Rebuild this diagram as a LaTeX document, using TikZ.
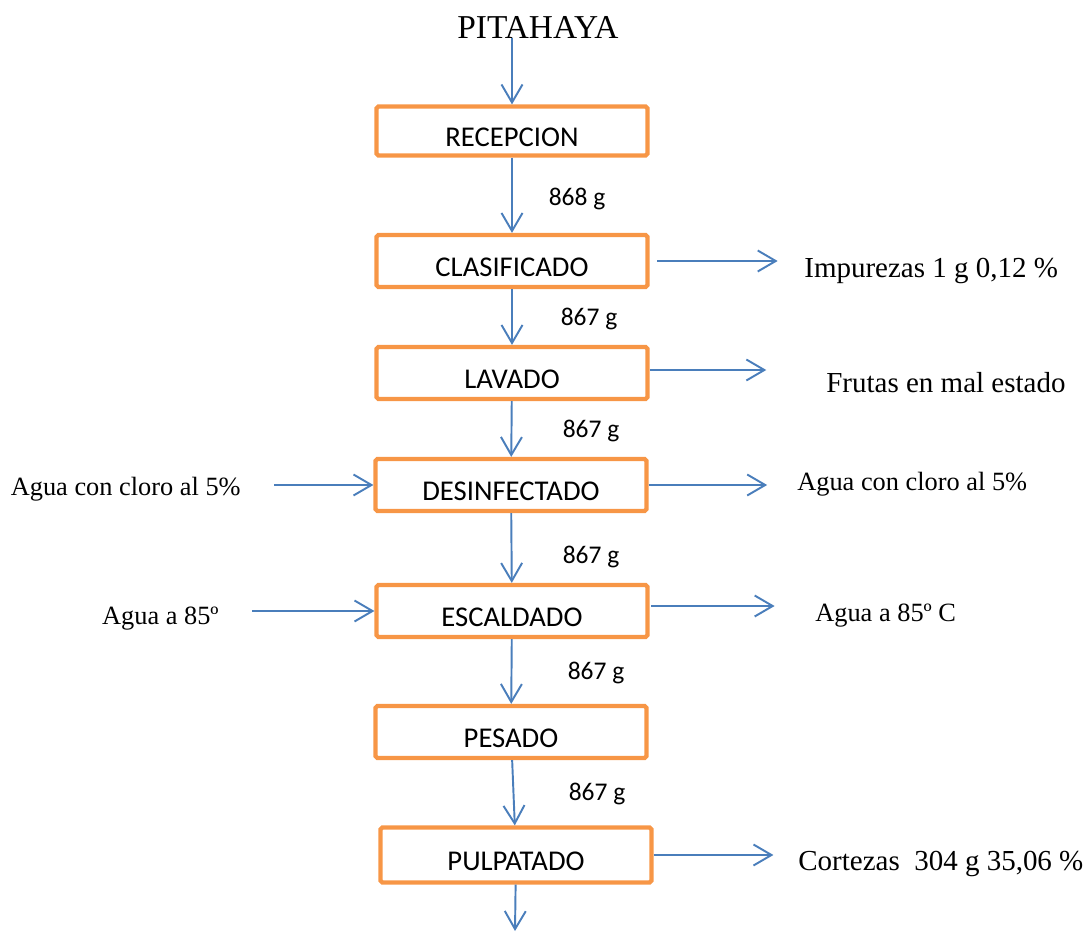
\documentclass[tikz,border=0pt]{standalone}
\usepackage{fontspec}
\setmainfont{Liberation Serif}
\newfontfamily\carlito{Carlito}
\usetikzlibrary{arrows.meta}

\definecolor{naranja}{RGB}{247,150,70}
\definecolor{azul}{RGB}{74,126,187}

\tikzset{
  etapa/.style={draw=naranja, line width=2.4pt, rounded corners=1pt,
    minimum width=5.42cm, minimum height=1.04cm,
    text height=17.3pt, text depth=0pt,
    font=\carlito\fontsize{16.3}{19}\selectfont},
  peso/.style={font=\carlito\fontsize{14.5}{17}\selectfont},
  texto/.style={font=\fontsize{16.5}{20}\selectfont, inner sep=0pt},
  agua/.style={texto, font=\fontsize{15}{18}\selectfont},
  flujo/.style={->, draw=azul, line width=1.1pt},
}

\begin{document}
\begin{tikzpicture}[x=0.02cm, y=-0.02cm, >={Straight Barb[length=0.36cm,width=0.42cm]}]
        \useasboundingbox (0,0) rectangle (1088,932);

        \node (pit) [inner sep=0pt, font=\fontsize{19}{22}\selectfont] at (538,27) {PITAHAYA};

        % etapas del proceso
        \node (rec) [etapa, minimum height=0.98cm] at (512,131) {RECEPCION};
        \node (cla) [etapa] at (512,261) {CLASIFICADO};
        \node (lav) [etapa] at (512,373) {LAVADO};
        \node (des) [etapa] at (511,485) {DESINFECTADO};
        \node (esc) [etapa] at (512,611) {ESCALDADO};
        \node (pes) [etapa] at (511,732) {PESADO};
        \node (pul) [etapa, minimum height=1.1cm] at (516,855) {PULPATADO};
        \coordinate (fin) at (515,931);

        % pesos
        \node (p1) [peso] at (577,199) {868 g};
        \node (p2) [peso] at (589,319) {867 g};
        \node (p3) [peso] at (591,431) {867 g};
        \node (p4) [peso] at (591,557) {867 g};
        \node (p5) [peso] at (596,673) {867 g};
        \node (p6) [peso] at (597,794) {867 g};

        % entradas y salidas
        \node (imp) [texto, anchor=west] at (804,271) {Impurezas 1 g 0,12 \%};
        \node (fru) [texto, anchor=west] at (826,383) {Frutas en mal estado};
        \node (acs) [agua, anchor=west] at (797,484) {Agua con cloro al 5\%};
        \node (acl) [agua, anchor=east] at (241,489) {Agua con cloro al 5\%};
        \node (aca) [agua, anchor=east] at (219,619) {Agua a 85º};
        \node (acc) [agua, anchor=west] at (815,616) {Agua a 85º C};
        \node (cor) [texto, anchor=west] at (798,864) {Cortezas~ 304 g 35,06 \%};

        \draw[flujo] (rec.north |- pit.south) -- (rec.north);
        \draw[flujo] (rec) -- (cla);
        \draw[flujo] (cla) -- (lav);
        \draw[flujo] (lav) -- (des);
        \draw[flujo] (des) -- (esc);
        \draw[flujo] (esc) -- (pes);
        \draw[flujo] (pes) -- (pul);
        \draw[flujo] (pul) -- (fin);

        \draw[flujo, shorten <=4.5pt, shorten >=15pt] (cla.east) -- (cla.east -| imp.west);
        \draw[flujo, shorten >=34pt] ([yshift=0.06cm]lav.east) -- ([yshift=0.06cm]lav.east -| fru.west);
        \draw[flujo, shorten >=17pt] (des.east) -- (des.east -| acs.west);
        \draw[flujo, shorten <=19pt] (des.west -| acl.east) -- (des.west);
        \draw[flujo, shorten <=19pt] (esc.west -| aca.east) -- (esc.west);
        \draw[flujo, shorten <=1pt, shorten >=23pt] ([yshift=0.1cm]esc.east) -- ([yshift=0.1cm]esc.east -| acc.west);
        \draw[flujo, shorten >=14pt] (pul.east) -- (pul.east -| cor.west);
    \end{tikzpicture}
\end{document}
